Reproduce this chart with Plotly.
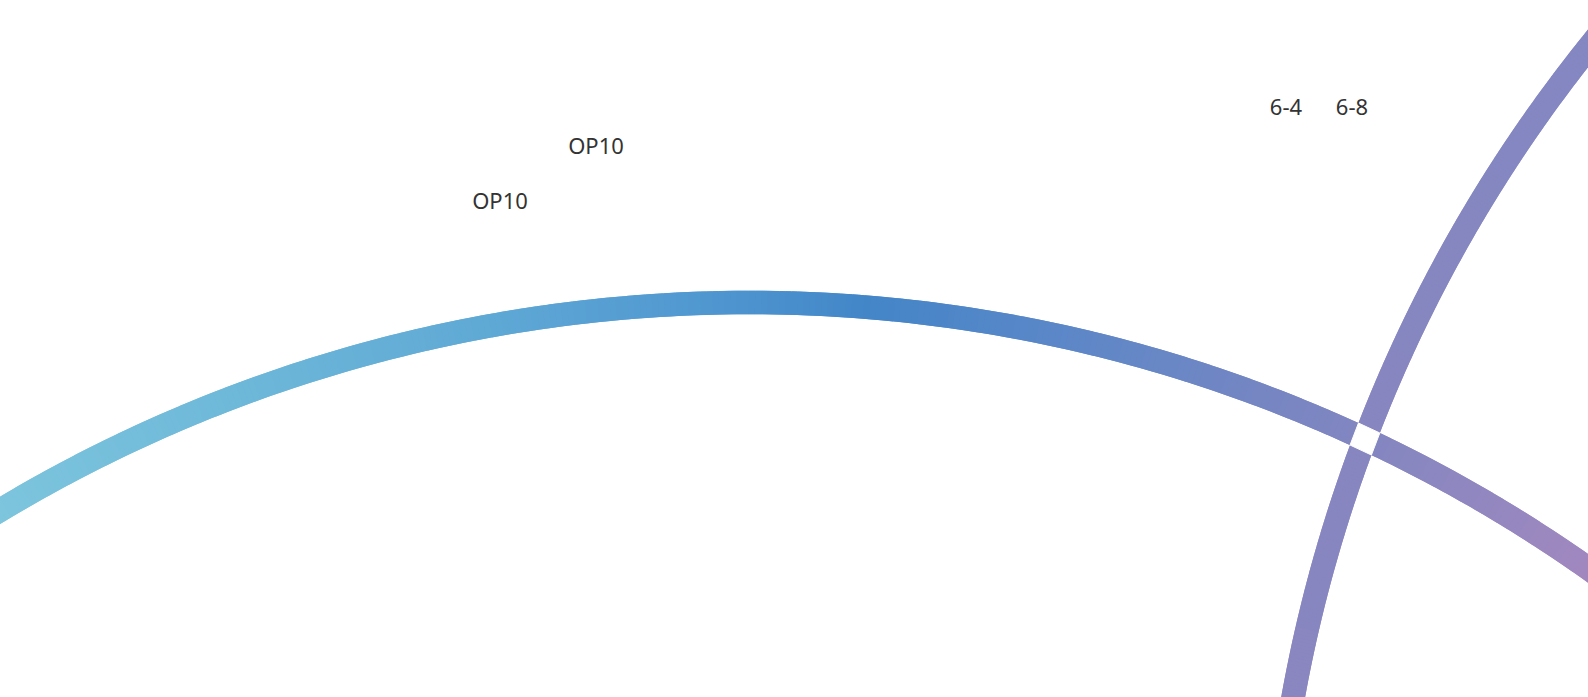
import numpy as np
import plotly.graph_objects as go

W, H = 1588, 697

# ---- data -------------------------------------------------------------
labels = ["OP10", "OP10", "6-4", "6-8"]
label_x = [596, 500, 1286, 1352]
label_y = [148, 203, 109, 109]

# two curved links (circular arcs): centre, radius, angle span (deg)
arc_cx = [749.6, 2723.0]
arc_cy = [1758.0, 955.5]
arc_r = [1455.5, 1453.0]
arc_a0 = [-126.0, 183.0]
arc_a1 = [-50.0, 226.0]
arc_width = 23.5

# gradient stops (arc 1 varies along x, arc 2 along y)
arc1_stop_pos = [0, 250, 500, 720, 870, 1050, 1340, 1588]
arc1_stop_col = ["#7dc5dd", "#6db7d9", "#5ea8d5", "#4f96d0", "#4386c8",
                 "#5a87c8", "#7f86c1", "#a088bf"]
arc2_stop_pos = [0, 697]
arc2_stop_col = ["#8487c2", "#8986c0"]


def hex2rgb(h):
    h = h.lstrip("#")
    return [int(h[i:i + 2], 16) for i in (0, 2, 4)]


def interp_col(v, pos, cols):
    rgb = np.array([hex2rgb(c) for c in cols], dtype=float)
    r = np.interp(v, pos, rgb[:, 0])
    g = np.interp(v, pos, rgb[:, 1])
    b = np.interp(v, pos, rgb[:, 2])
    return f"rgb({r:.0f},{g:.0f},{b:.0f})"


fig = go.Figure()

stops = [(arc1_stop_pos, arc1_stop_col, 0), (arc2_stop_pos, arc2_stop_col, 1)]
for k in range(2):
    a = np.radians(np.linspace(arc_a0[k], arc_a1[k], 320))
    xs = arc_cx[k] + arc_r[k] * np.cos(a)
    ys = arc_cy[k] + arc_r[k] * np.sin(a)
    pos, cols, axis = stops[k]
    for i in range(len(a) - 2):
        mx = xs[i + 1] if axis == 0 else ys[i + 1]
        fig.add_trace(go.Scatter(
            x=xs[i:i + 3], y=ys[i:i + 3], mode="lines",
            line=dict(color=interp_col(mx, pos, cols), width=arc_width),
            hoverinfo="skip", showlegend=False))


# white gap where the two links cross
def circ_int(c1, r1, c2, r2, near):
    c1 = np.array(c1); c2 = np.array(c2)
    d = np.linalg.norm(c2 - c1)
    a = (r1 ** 2 - r2 ** 2 + d ** 2) / (2 * d)
    h = np.sqrt(max(r1 ** 2 - a ** 2, 0))
    p = c1 + a * (c2 - c1) / d
    perp = np.array([-(c2 - c1)[1], (c2 - c1)[0]]) / d
    cands = [p + h * perp, p - h * perp]
    return min(cands, key=lambda q: np.linalg.norm(q - near))


c1 = (arc_cx[0], arc_cy[0]); c2 = (arc_cx[1], arc_cy[1])
centre = circ_int(c1, arc_r[0], c2, arc_r[1], np.array([W, 0]))
hw = arc_width / 2
corners = [circ_int(c1, arc_r[0] + s1 * hw, c2, arc_r[1] + s2 * hw, centre)
           for s1, s2 in [(-1, -1), (-1, 1), (1, 1), (1, -1)]]
corners.append(corners[0])
fig.add_trace(go.Scatter(
    x=[p[0] for p in corners], y=[p[1] for p in corners], mode="lines",
    fill="toself", fillcolor="white", line=dict(color="white", width=1),
    hoverinfo="skip", showlegend=False))

fig.add_trace(go.Scatter(
    x=label_x, y=label_y, mode="text", text=labels,
    textposition="middle center",
    textfont=dict(family="Noto Sans", size=22, color="#333333"),
    hoverinfo="skip", showlegend=False))

fig.update_layout(
    width=W, height=H, margin=dict(l=0, r=0, t=0, b=0),
    paper_bgcolor="white", plot_bgcolor="white", hovermode=False,
    xaxis=dict(range=[0, W], visible=False, fixedrange=True),
    yaxis=dict(range=[H, 0], visible=False, fixedrange=True),
)

fig.write_html("out.html", config={"displayModeBar": False},
               post_script="document.body.style.margin='0';")
